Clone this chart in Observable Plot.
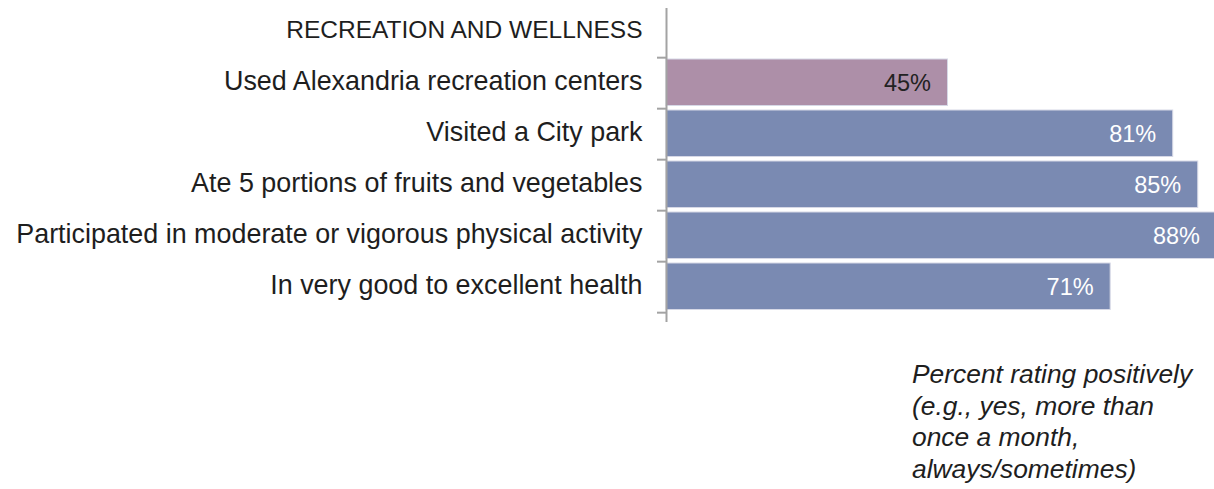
<!DOCTYPE html>
<html>
<head>
<meta charset="utf-8">
<script src="https://cdn.jsdelivr.net/npm/d3@7"></script>
<script src="https://cdn.jsdelivr.net/npm/@observablehq/plot@0.6"></script>
<style>
  html, body { margin: 0; padding: 0; background: #fff; overflow: hidden; }
  body { width: 1214px; height: 489px; position: relative; font-family: "Liberation Sans", Arial, sans-serif; }
  #chart svg { display: block; max-width: none; }
  #caption {
    position: absolute; left: 912px; top: 359px;
    font-style: italic; font-size: 26.4px; line-height: 31.5px; color: #1e1e1e;
    font-family: "Liberation Sans", Arial, sans-serif;
  }
</style>
</head>
<body>
<div id="chart"></div>
<div id="caption">Percent rating positively<br>(e.g., yes, more than<br>once a month,<br>always/sometimes)</div>
<script>
const header = "RECREATION AND WELLNESS";
const categories = [
  "Used Alexandria recreation centers",
  "Visited a City park",
  "Ate 5 portions of fruits and vegetables",
  "Participated in moderate or vigorous physical activity",
  "In very good to excellent health"
];
const values = [45, 81, 85, 88, 71];
const barColors = ["#ad8fa8", "#7a8ab2", "#7a8ab2", "#7a8ab2", "#7a8ab2"];
const labelColors = ["#222222", "#ffffff", "#ffffff", "#ffffff", "#ffffff"];

const data = categories.map((c, i) => ({category: c, value: values[i], fill: barColors[i], labelFill: labelColors[i]}));
const yDomain = [header, ...categories];

const width = 1214, height = 330;
const marginTop = 5, marginBottom = 17, marginLeft = 666, marginRight = 0;
const step = (height - marginTop - marginBottom) / yDomain.length;

const chart = Plot.plot({
  width, height, marginTop, marginBottom, marginLeft, marginRight,
  style: {fontFamily: "'Liberation Sans', Arial, sans-serif", background: "white"},
  x: {domain: [0, 87.6], axis: null},
  y: {domain: yDomain, padding: 0, axis: null},
  marks: [
    Plot.barX(data, {
      x: "value", y: "category", fill: "fill",
      stroke: "#d6d8e6", strokeWidth: 1,
      insetTop: 2, insetBottom: 2.5
    }),
    Plot.ruleX([0], {stroke: "#a3a3a3", strokeWidth: 2, insetTop: 3, insetBottom: -9}),
    Plot.ruleY(yDomain, {y: d => d, x1: 0, x2: 0, insetLeft: -9, stroke: "#a3a3a3", strokeWidth: 2, dy: step / 2}),
    Plot.text(categories, {
      y: d => d, text: d => d, frameAnchor: "left", textAnchor: "end",
      dx: -24, dy: -2, fontSize: 26.9, fill: "#1e1e1e"
    }),
    Plot.text([header], {
      y: d => d, text: d => d, frameAnchor: "left", textAnchor: "end",
      dx: -24, dy: -2, fontSize: 24.5, fill: "#1e1e1e"
    }),
    Plot.text(data, {
      x: "value", y: "category", text: d => d.value + "%",
      textAnchor: "end", dx: -17, fontSize: 23.5, fill: "labelFill"
    })
  ]
});
document.getElementById("chart").appendChild(chart);
</script>
</body>
</html>
